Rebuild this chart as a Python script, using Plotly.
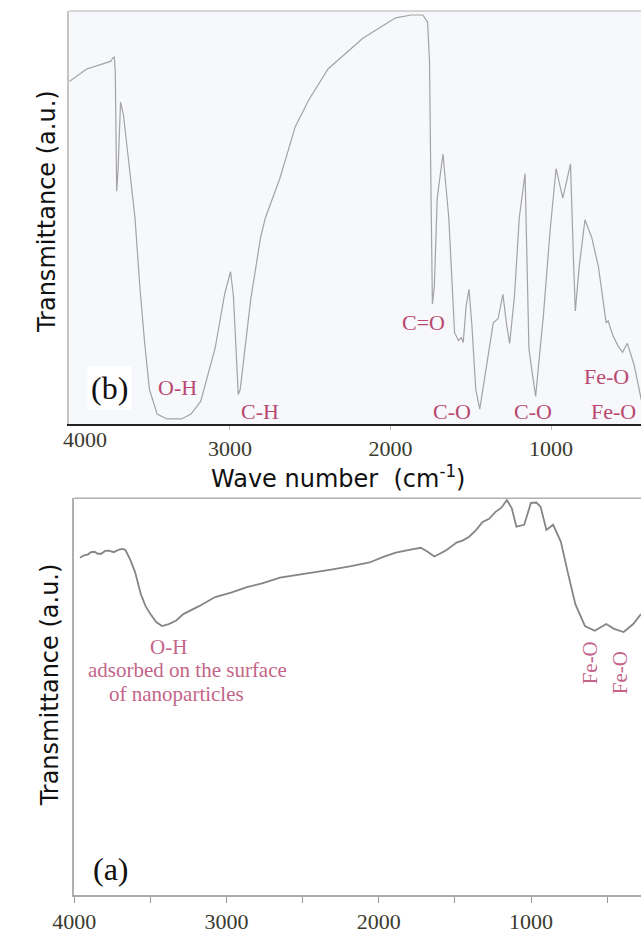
import plotly.graph_objects as go

# ---------------- data ----------------
# (b) upper spectrum: wavenumber (cm-1) and transmittance (a.u., 0-100)
wn_b = [4000, 3892, 3796, 3741, 3729, 3720, 3714, 3711, 3705, 3696, 3681, 3663, 3633, 3591, 3561,
        3531, 3501, 3453, 3393, 3302, 3242, 3182, 3092, 3032, 2996, 2978, 2960, 2948, 2936, 2912,
        2870, 2809, 2779, 2689, 2593, 2509, 2389, 2172, 1968, 1871, 1799, 1769, 1757, 1751, 1739,
        1727, 1709, 1673, 1637, 1601, 1577, 1559, 1547, 1529, 1511, 1493, 1469, 1444, 1420, 1390,
        1360, 1330, 1300, 1276, 1258, 1228, 1198, 1162, 1150, 1138, 1120, 1096, 1072, 1048, 1006,
        969, 927, 879, 861, 849, 825, 789, 747, 705, 657, 645, 615, 585, 555, 525, 483, 446, 420]
tr_b = [83.2, 86.3, 87.5, 88.2, 89.0, 89.2, 85.9, 66.7, 56.4, 61.9, 78.2, 75.1, 64.3, 49.9, 33.1,
        19.4, 7.9, 1.9, 0.7, 0.7, 1.9, 5.0, 18.0, 31.4, 36.7, 30.7, 16.3, 6.7, 7.9, 16.3,
        30.0, 45.1, 49.9, 59.5, 72.2, 78.7, 86.3, 93.8, 98.8, 99.5, 99.5, 97.8, 88.2, 66.7, 28.8,
        33.1, 54.7, 65.5, 49.9, 21.8, 19.9, 20.6, 19.4, 28.3, 32.4, 23.5, 7.9, 3.1, 9.1, 17.5,
        24.2, 25.2, 31.2, 23.5, 19.2, 30.7, 49.9, 60.7, 42.7, 18.0, 12.7, 6.2, 16.3, 25.9, 46.8,
        61.9, 54.7, 63.1, 40.3, 27.1, 37.9, 49.4, 45.1, 37.9, 24.2, 24.7, 21.1, 18.7, 17.0, 19.2, 13.9, 7.4, 2.0]

# (a) lower spectrum
wn_a = [3962, 3935, 3911, 3890, 3867, 3845, 3822, 3797, 3772, 3740, 3708, 3685, 3664, 3632, 3601,
        3562, 3531, 3499, 3461, 3423, 3379, 3330, 3283, 3180, 3074, 2970, 2865, 2760, 2649, 2540,
        2440, 2313, 2190, 2060, 1970, 1888, 1800, 1724, 1679, 1635, 1590, 1552, 1489, 1450, 1406,
        1360, 1318, 1275, 1235, 1195, 1159, 1127, 1096, 1045, 1001, 965, 937, 899, 855, 804,
        760, 709, 646, 582, 506, 455, 392, 329, 278]
tr_a = [85.0, 85.6, 85.8, 86.4, 86.5, 86.0, 86.0, 86.7, 86.8, 86.4, 87.0, 87.2, 87.0, 84.5, 81.5,
        75.8, 72.8, 70.8, 68.8, 67.8, 68.3, 69.2, 70.8, 72.8, 75.1, 76.2, 77.6, 78.6, 80.0, 80.6,
        81.3, 82.0, 82.8, 83.8, 85.2, 86.3, 87.0, 87.5, 86.5, 85.3, 86.2, 87.0, 88.8, 89.3, 90.3,
        92.0, 94.0, 94.8, 96.5, 97.6, 99.5, 97.5, 92.8, 93.3, 98.8, 98.9, 97.8, 92.0, 93.3, 89.0,
        81.5, 73.3, 67.8, 66.6, 68.3, 67.1, 66.3, 68.3, 70.8]

tick_vals = [4000, 3000, 2000, 1000]
tick_text = ["4000", "3000", "2000", "1000"]
minor_vals = [3500, 2500, 1500, 500]

W, H = 641, 934
def px(x):
    return x / W
def py(y):
    return 1 - y / H

top_col = "#a3a3a3"
bot_col = "#858585"
lab_top = "#b9476f"
lab_bot = "#c46489"
serif = "Liberation Serif"
sans = "DejaVu Sans"

fig = go.Figure()
fig.add_trace(go.Scatter(x=wn_b, y=tr_b, mode="lines", line=dict(color=top_col, width=1.2),
                         xaxis="x", yaxis="y", showlegend=False, hoverinfo="skip"))
fig.add_trace(go.Scatter(x=wn_a, y=tr_a, mode="lines", line=dict(color=bot_col, width=1.8),
                         xaxis="x2", yaxis="y2", showlegend=False, hoverinfo="skip"))

fig.update_layout(
    width=W, height=H, margin=dict(l=0, r=0, t=0, b=0),
    paper_bgcolor="white", plot_bgcolor="rgba(0,0,0,0)",
    xaxis=dict(domain=[px(49), 1], range=[4000, 440], anchor="y",
               tickvals=tick_vals[1:], ticktext=tick_text[1:], ticks="outside", ticklen=4,
               tickcolor="#bbbbbb", tickfont=dict(family=serif, size=22, color="#3a3a2e"),
               showline=True, linecolor="#222222", linewidth=2, showgrid=False, zeroline=False),
    yaxis=dict(domain=[py(428), py(11)], range=[-0.5, 100.5], anchor="x", showticklabels=False,
               ticks="", showline=True, linecolor="#c4c4c4", linewidth=1.5, showgrid=False, zeroline=False),
    xaxis2=dict(domain=[px(54), 1], range=[4000, 278], anchor="y2",
                tickvals=tick_vals, ticktext=tick_text,
                ticks="outside", ticklen=6, tickcolor="#999999",
                minor=dict(tickmode="array", tickvals=minor_vals, ticks="outside", ticklen=6,
                           tickcolor="#999999", showgrid=False),
                tickfont=dict(family=serif, size=22, color="#3a3a2e"),
                showline=True, linecolor="#aaaaaa", linewidth=1.5, showgrid=False, zeroline=False),
    yaxis2=dict(domain=[py(904), py(503)], range=[0, 100], anchor="x2", showticklabels=False,
                ticks="", showline=True, linecolor="#b0b0b0", linewidth=1.5, showgrid=False, zeroline=False),
)

shapes = [
    # top panel light background
    dict(type="rect", xref="paper", yref="paper", x0=px(49), x1=1, y0=py(428), y1=py(11),
         fillcolor="#f6f8fb", line=dict(width=0), layer="below"),
    # top border lines
    dict(type="line", xref="paper", yref="paper", x0=px(49), x1=1, y0=py(11), y1=py(11),
         line=dict(color="#c8c8c8", width=1.5)),
    dict(type="line", xref="paper", yref="paper", x0=px(54), x1=1, y0=py(503), y1=py(503),
         line=dict(color="#b0b0b0", width=1.5)),
]
fig.update_layout(shapes=shapes)

ann = []
def A(text, x, y, color, size, family=serif, angle=0, **kw):
    ann.append(dict(text=text, x=px(x), y=py(y), xref="paper", yref="paper", showarrow=False,
                    font=dict(family=family, size=size, color=color), textangle=angle,
                    xanchor="center", yanchor="middle", **kw))

# top panel "4000" label (shifted right of the corner, as in the picture)
ann.append(dict(text=tick_text[0], x=tick_vals[0], y=py(444), xref="x", yref="paper", xshift=16,
                showarrow=False, font=dict(family=serif, size=22, color="#3a3a2e"),
                xanchor="center", yanchor="middle"))

A("Transmittance (a.u.)", 26, 214, "#111111", 24, family=sans, angle=-90)
A("Transmittance (a.u.)", 29, 692, "#111111", 24, family=sans, angle=-90)
A("Wave number\u00a0\u00a0(cm<sup>-1</sup>)", 327, 482, "#111111", 24, family=sans)

A("(b)", 91, 392, "#111111", 32, bgcolor="white", borderpad=3)
A("O-H", 161, 391, lab_top, 22)
A("C-H", 246, 415, lab_top, 22)
A("C=O", 416, 326, lab_top, 22)
A("C-O", 445, 416, lab_top, 22)
A("C-O", 529, 416, lab_top, 22)
A("Fe-O", 605, 380, lab_top, 22)
A("Fe-O", 613, 416, lab_top, 22)

A("(a)", 92, 877, "#111111", 32)
A("O-H", 152, 653, lab_bot, 21)
A("adsorbed on the surface", 171, 677, lab_bot, 21)
A("of nanoparticles", 160, 701, lab_bot, 21)
A("Fe-O", 588, 669, lab_bot, 21, angle=-90)
A("Fe-O", 620, 679, lab_bot, 21, angle=-90)

fig.update_layout(annotations=ann)
fig.write_html("out.html")
